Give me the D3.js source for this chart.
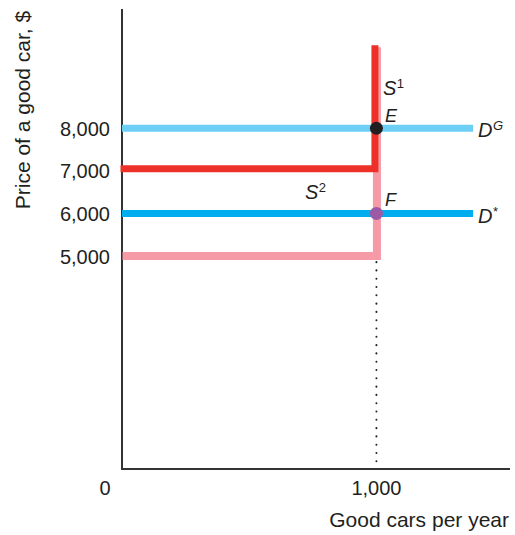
<!DOCTYPE html>
<html><head><meta charset="utf-8">
<script src="https://cdn.jsdelivr.net/npm/d3@7"></script>
<style>
html,body{margin:0;padding:0;background:#fff;}
svg{display:block;font-family:"Liberation Sans",Arial,sans-serif;}
</style></head><body>
<svg id="c" width="515" height="535"></svg>
<script>
// ---- data ----
const qty = 1000;                 // quantity of good cars supplied
const qtyMax = 1380;              // end of demand lines
const supplyTop = 9900;           // top of vertical supply segments
const demandG = 8000;             // D^G price
const demandStar = 6000;          // D* price
const supply1Price = 7000;        // S1 reservation price
const supply2Price = 5000;        // S2 reservation price
const yTicks = [8000, 7000, 6000, 5000];
const xTicks = [0, 1000];
const equilibria = [{name: "E", q: 1000, p: 8000}, {name: "F", q: 1000, p: 6000}];

const svg = d3.select("#c");
const x = d3.scaleLinear().domain([0, 1525]).range([122, 510]);
const y = d3.scaleLinear().domain([0, 10800]).range([469, 9]);
const fmt = d3.format(",");

// axes
svg.append("line").attr("x1", x(0)).attr("x2", x(0)).attr("y1", y(10800)).attr("y2", y(0))
  .attr("stroke", "#333").attr("stroke-width", 2);
svg.append("line").attr("x1", x(0) - 1).attr("x2", x(1525)).attr("y1", y(0)).attr("y2", y(0))
  .attr("stroke", "#333").attr("stroke-width", 2);

// dotted guide
svg.append("line").attr("x1", x(qty)).attr("x2", x(qty)).attr("y1", y(supply2Price) + 6).attr("y2", y(0) - 2)
  .attr("stroke", "#222").attr("stroke-width", 2).attr("stroke-linecap", "round")
  .attr("stroke-dasharray", "0.1,8.2");

const line = d3.line().x(d => x(d[0])).y(d => y(d[1]));

// supply S2 (pink)
svg.append("path").attr("d", line([[0, supply2Price], [qty, supply2Price], [qty, supplyTop]]))
  .attr("fill", "none").attr("stroke", "#f59aa6").attr("stroke-width", 8)
  .attr("transform", "translate(0.5,0)");
// supply S1 (red)
svg.append("path").attr("d", line([[0, supply1Price], [qty, supply1Price], [qty, supplyTop]]))
  .attr("fill", "none").attr("stroke", "#ee3128").attr("stroke-width", 7)
  .attr("transform", "translate(-1.5,-2)");

// demand lines
svg.append("path").attr("d", line([[0, demandG], [qtyMax, demandG]]))
  .attr("stroke", "#6dcff6").attr("stroke-width", 7);
svg.append("path").attr("d", line([[0, demandStar], [qtyMax, demandStar]]))
  .attr("stroke", "#00aeef").attr("stroke-width", 7);

// equilibrium points
svg.selectAll("circle.eq").data(equilibria).enter().append("circle")
  .attr("cx", d => x(d.q)).attr("cy", d => y(d.p)).attr("r", 6.5)
  .attr("fill", (d, i) => i === 0 ? "#231f20" : "#9c5aa6");

// tick labels
svg.selectAll("text.yt").data(yTicks).enter().append("text")
  .attr("x", 110).attr("y", d => y(d) + 7.5).attr("text-anchor", "end")
  .attr("font-size", 20).attr("fill", "#231f20").text(fmt);
svg.selectAll("text.xt").data(xTicks).enter().append("text")
  .attr("x", (d, i) => i === 0 ? 105 : x(d)).attr("y", 495).attr("text-anchor", "middle")
  .attr("font-size", 20).attr("fill", "#231f20").text(fmt);

// axis titles
svg.append("text").attr("x", 509).attr("y", 527).attr("text-anchor", "end")
  .attr("font-size", 21).attr("fill", "#231f20").text("Good cars per year");
svg.append("text").attr("transform", "translate(30,110) rotate(-90)").attr("text-anchor", "middle")
  .attr("font-size", 21).attr("fill", "#231f20").text("Price of a good car, $");

// curve labels
function lab(px, py, main, sup, size, supItalic) {
  const t = svg.append("text").attr("x", px).attr("y", py).attr("font-size", size || 20)
    .attr("font-style", "italic").attr("fill", "#231f20");
  t.append("tspan").text(main);
  if (sup) t.append("tspan").attr("dy", -7).attr("dx", 0.5).attr("font-size", 13)
    .attr("font-style", supItalic ? "italic" : "normal").text(sup);
}
lab(383, 95, "S", "1");
lab(385, 122, "E", null, 18);
lab(478, 137, "D", "G", 20, true);
lab(305, 199, "S", "2");
lab(385, 206, "F", null, 18);
lab(478, 223, "D", "*");
</script>
</body></html>
